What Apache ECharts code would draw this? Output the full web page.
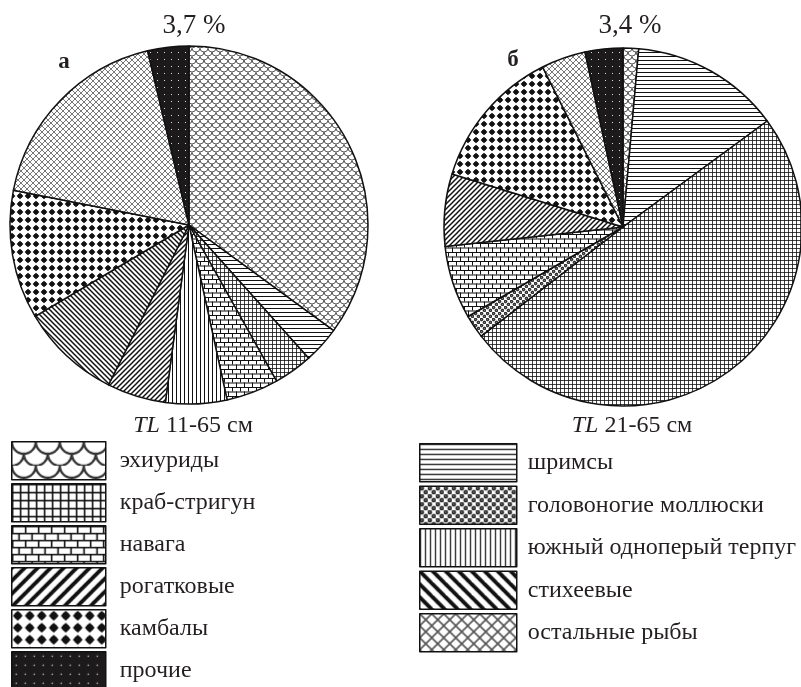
<!DOCTYPE html>
<html>
<head>
<meta charset="utf-8">
<script src="https://cdn.jsdelivr.net/npm/echarts@6/dist/echarts.min.js"></script>
<style>
html,body{margin:0;padding:0;background:#fff;}
#chart{width:801px;height:687px;}
</style>
</head>
<body>
<div id="chart"></div>
<script>
// ---------- data ----------
const categories = ['эхиуриды', 'шримсы', 'краб-стригун', 'головоногие моллюски', 'навага',
  'южный одноперый терпуг', 'рогатковые', 'стихеевые', 'камбалы', 'остальные рыбы', 'прочие'];
const sharesA = [34.9, 3.3, 3.5, 0, 4.7, 5.5, 5.3, 9.0, 11.6, 18.1, 3.7];
const sharesB = [1.4, 13.5, 49.6, 2.1, 6.6, 0, 6.5, 0, 12.8, 4.0, 3.4];
const topLabels = ['3,7 %', '3,4 %'];
const panelLabels = ['а', 'б'];
const sizeLabels = ['11-65 см', '21-65 см'];
const legendLeft = ['эхиуриды', 'краб-стригун', 'навага', 'рогатковые', 'камбалы', 'прочие'];
const legendRight = ['шримсы', 'головоногие моллюски', 'южный одноперый терпуг', 'стихеевые', 'остальные рыбы'];

// ---------- patterns ----------
const kinds = ['scales', 'hlines', 'grid', 'circles', 'brick', 'vlines', 'diagR', 'diagL', 'diamonds', 'cross', 'dots'];
const legendScale = {scales: 3, hlines: 1.2, grid: 2, circles: 1.4, brick: 1.6, vlines: 1.25, diagR: 2.6, diagL: 2.6, diamonds: 1.5, cross: 2, dots: 1.3};

function makePattern(kind, s) {
  const base = {scales: [8, 8], hlines: [4, 4], grid: [4, 4], circles: [6, 6], brick: [8, 9],
    vlines: [4, 4], diagR: [5, 5], diagL: [5, 5], diamonds: [8, 8], cross: [6, 6], dots: [7, 7]}[kind];
  const W = Math.max(2, Math.round(base[0] * s)), H = Math.max(2, Math.round(base[1] * s));
  const c = document.createElement('canvas');
  c.width = W; c.height = H;
  const g = c.getContext('2d');
  g.scale(W / base[0], H / base[1]);
  const w = base[0], h = base[1];
  g.fillStyle = '#fff';
  g.fillRect(0, 0, w, h);
  g.fillStyle = '#111';
  g.strokeStyle = '#111';
  if (kind === 'scales') {
    g.strokeStyle = '#333';
    g.lineWidth = 0.8;
    [[w / 2, 0], [0, h / 2], [w, h / 2], [w / 2, h]].forEach(p => {
      g.beginPath(); g.arc(p[0], p[1], w / 2, 0, Math.PI); g.stroke();
    });
  } else if (kind === 'hlines') {
    g.fillRect(0, 0, w, 1);
  } else if (kind === 'vlines') {
    g.fillRect(0, 0, 1, h);
  } else if (kind === 'grid') {
    g.fillRect(0, 0, w, 0.8);
    g.fillRect(0, 0, 0.8, h);
  } else if (kind === 'brick') {
    g.fillRect(0, 0, w, 1);
    g.fillRect(0, h / 2, w, 1);
    g.fillRect(0, 0, 1, h / 2);
    g.fillRect(w / 2, h / 2, 1, h / 2);
  } else if (kind === 'diagR' || kind === 'diagL') {
    g.lineWidth = 1.5;
    const seg = (x1, y1, x2, y2) => { g.beginPath(); g.moveTo(x1, y1); g.lineTo(x2, y2); g.stroke(); };
    if (kind === 'diagR') {
      seg(-1, h + 1, w + 1, -1); seg(-1, 1, 1, -1); seg(w - 1, h + 1, w + 1, h - 1);
    } else {
      seg(-1, -1, w + 1, h + 1); seg(-1, h - 1, 1, h + 1); seg(w - 1, -1, w + 1, 1);
    }
  } else if (kind === 'diamonds') {
    g.beginPath(); g.arc(w / 2, h / 2, 2.3, 0, Math.PI * 2); g.fill();
    g.beginPath(); g.moveTo(w / 2, h / 2 - 3.3); g.lineTo(w / 2 + 3.3, h / 2); g.lineTo(w / 2, h / 2 + 3.3); g.lineTo(w / 2 - 3.3, h / 2); g.closePath(); g.fill();
  } else if (kind === 'circles') {
    g.lineWidth = 0.7;
    [[1.5, 1.5], [4.5, 4.5]].forEach(p => {
      g.beginPath(); g.arc(p[0], p[1], 1.45, 0, Math.PI * 2); g.fillStyle = '#333'; g.fill();
      g.beginPath(); g.arc(p[0], p[1], 1.45, 0, Math.PI * 2); g.stroke();
    });
    g.fillStyle = '#fff';
    [[1.1, 1.1], [4.1, 4.1]].forEach(p => { g.fillRect(p[0], p[1], 0.6, 0.6); });
  } else if (kind === 'cross') {
    g.strokeStyle = '#555';
    g.lineWidth = 0.8;
    const seg = (x1, y1, x2, y2) => { g.beginPath(); g.moveTo(x1, y1); g.lineTo(x2, y2); g.stroke(); };
    seg(-1, h + 1, w + 1, -1); seg(-1, 1, 1, -1); seg(w - 1, h + 1, w + 1, h - 1);
    seg(-1, -1, w + 1, h + 1); seg(-1, h - 1, 1, h + 1); seg(w - 1, -1, w + 1, 1);
  } else if (kind === 'dots') {
    g.fillStyle = '#1c1a1a';
    g.fillRect(0, 0, w, h);
    g.fillStyle = '#ddd';
    g.fillRect(3, 3, 1, 1);
  }
  return {image: c, repeat: 'repeat'};
}

const piePatterns = {};
const legendPatterns = {};
categories.forEach((name, i) => {
  piePatterns[name] = makePattern(kinds[i], 1);
  legendPatterns[name] = makePattern(kinds[i], legendScale[kinds[i]]);
});

function pieData(shares) {
  return categories.map((name, i) => ({name: name, value: shares[i], itemStyle: {color: piePatterns[name]}}))
    .filter(d => d.value > 0);
}

const font = 'Liberation Serif';
const txt = '#231f20';

function pieSeries(center, shares) {
  return {
    type: 'pie',
    center: center,
    radius: [0, 179],
    startAngle: 90,
    clockwise: true,
    avoidLabelOverlap: false,
    label: {show: false},
    labelLine: {show: false},
    emphasis: {disabled: true},
    itemStyle: {borderColor: '#111', borderWidth: 1.5},
    data: pieData(shares)
  };
}

function legendBlock(names, left, top, itemWidth, itemHeight, itemGap, textPad) {
  return {
    orient: 'vertical',
    left: left, top: top,
    height: 260,
    padding: 0,
    itemWidth: itemWidth, itemHeight: itemHeight, itemGap: itemGap,
    icon: 'rect',
    selectedMode: false,
    textStyle: {fontFamily: font, fontSize: 24, color: txt, padding: [0, 0, 0, textPad]},
    itemStyle: {borderColor: '#111', borderWidth: 1.5},
    data: names.map(n => ({name: n, itemStyle: {color: legendPatterns[n], borderColor: '#111', borderWidth: 1.5}}))
  };
}

const chart = echarts.init(document.getElementById('chart'), null, {renderer: 'canvas'});
chart.setOption({
  backgroundColor: '#fff',
  animation: false,
  title: [
    {text: topLabels[0], left: 194, top: 12, textAlign: 'center', padding: 0,
      textStyle: {fontFamily: font, fontSize: 27, fontWeight: 'normal', color: txt}},
    {text: topLabels[1], left: 630, top: 12, textAlign: 'center', padding: 0,
      textStyle: {fontFamily: font, fontSize: 27, fontWeight: 'normal', color: txt}},
    {text: panelLabels[0], left: 64, top: 51, textAlign: 'center', padding: 0,
      textStyle: {fontFamily: font, fontSize: 23, fontWeight: 'bold', color: txt}},
    {text: panelLabels[1], left: 513, top: 49, textAlign: 'center', padding: 0,
      textStyle: {fontFamily: font, fontSize: 23, fontWeight: 'bold', color: txt}},
    {text: '{i|TL} ' + sizeLabels[0], left: 193, top: 414, textAlign: 'center', padding: 0,
      textStyle: {fontFamily: font, fontSize: 24, fontWeight: 'normal', color: txt,
        rich: {i: {fontFamily: font, fontSize: 24, fontStyle: 'italic', color: txt}}}},
    {text: '{i|TL} ' + sizeLabels[1], left: 632, top: 414, textAlign: 'center', padding: 0,
      textStyle: {fontFamily: font, fontSize: 24, fontWeight: 'normal', color: txt,
        rich: {i: {fontFamily: font, fontSize: 24, fontStyle: 'italic', color: txt}}}}
  ],
  legend: [
    legendBlock(legendLeft, 11, 441, 94, 38, 2.5, 9),
    legendBlock(legendRight, 419, 443, 97, 38, 3, 6)
  ],
  series: [
    pieSeries([189, 225], sharesA),
    pieSeries([623, 227], sharesB)
  ]
});
</script>
</body>
</html>
